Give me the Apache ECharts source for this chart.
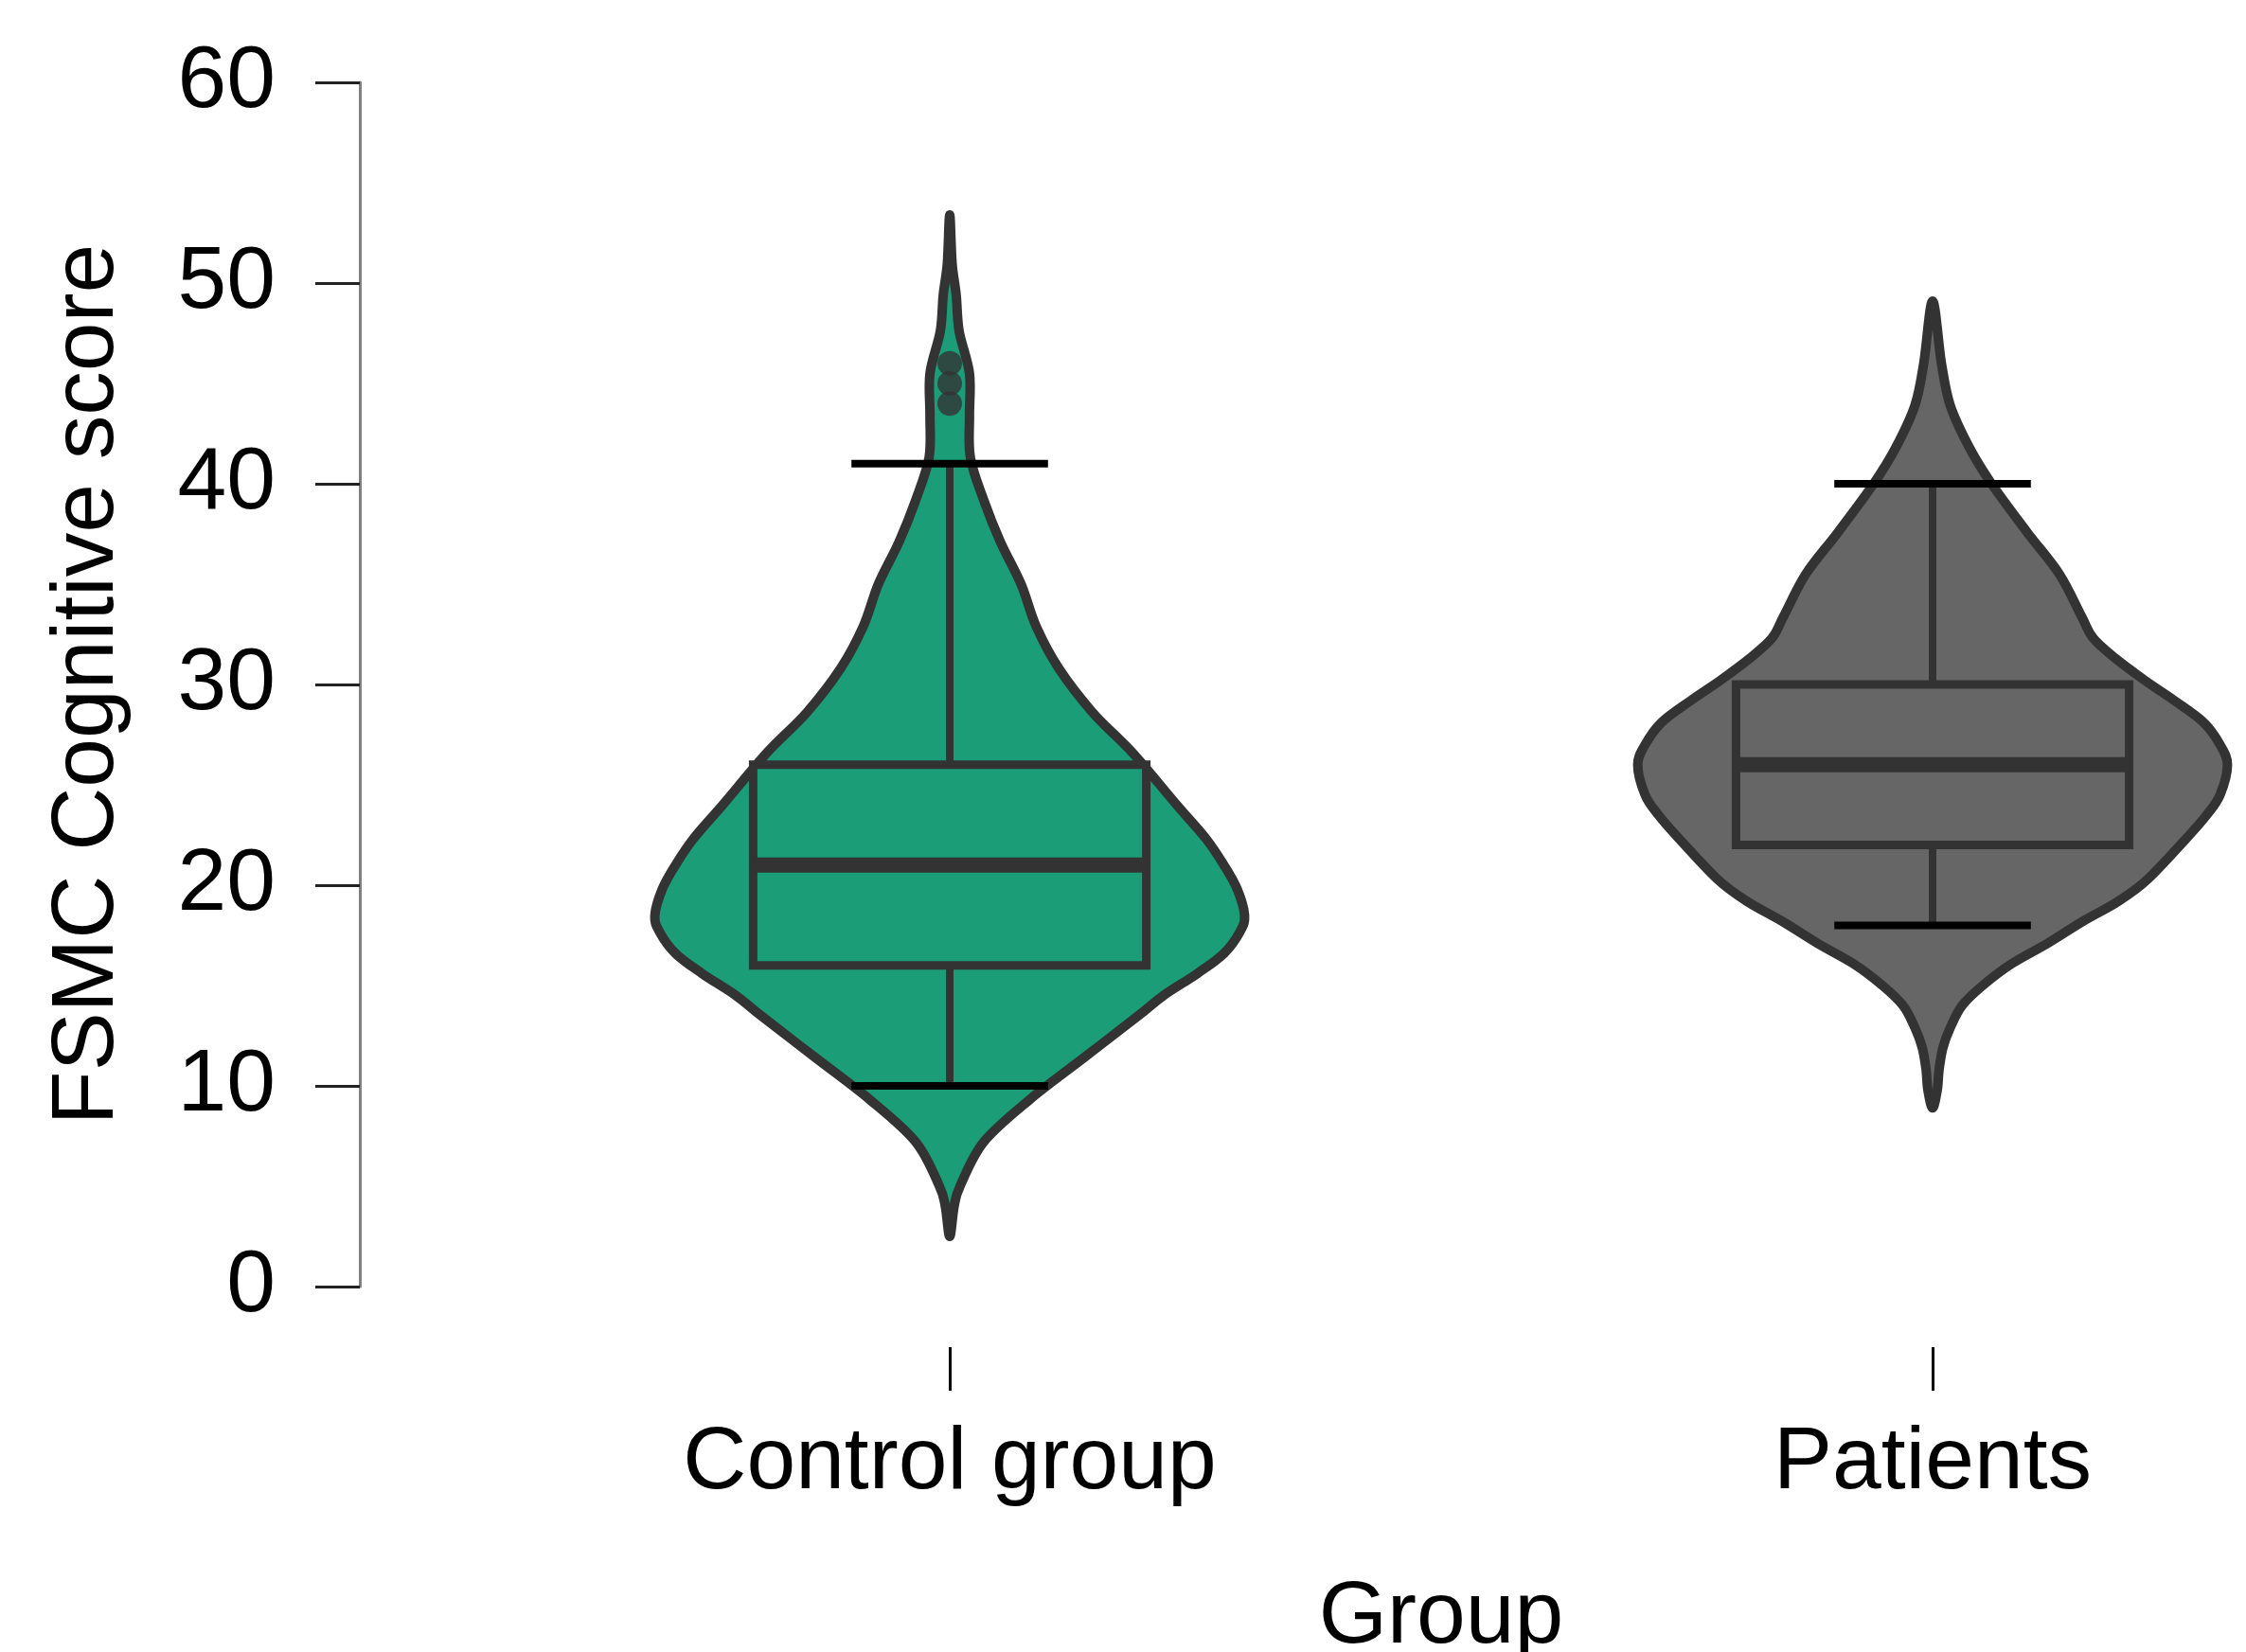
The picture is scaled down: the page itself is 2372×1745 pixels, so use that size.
<!DOCTYPE html>
<html>
<head>
<meta charset="utf-8">
<script src="https://cdn.jsdelivr.net/npm/echarts@6/dist/echarts.min.js"></script>
<style>
html,body{margin:0;padding:0;background:#fff;}
#chart{width:2372px;height:1745px;}
</style>
</head>
<body>
<div id="chart"></div>
<script>
// ---------- data ----------
const categories = ['Control group', 'Patients'];
const yTickMin = 0, yTickMax = 60, yTickStep = 10;

// violin outlines: score and relative half-width (1 = widest)
const controlDensityScore = [2.5, 4.0, 5.0, 7.2, 9.3, 11.4, 13.5, 14.5, 15.6, 16.6, 17.7, 18.5, 19.8, 21.0, 22.3, 24.0, 26.6, 28.6, 30.8, 32.9, 35.0, 37.1, 39.2, 41.3, 43.4, 45.5, 47.6, 49.4, 51.0, 53.4];
const controlDensityWidth = [0, 0.015, 0.035, 0.115, 0.27, 0.455, 0.64, 0.725, 0.84, 0.93, 0.985, 1.0, 0.975, 0.93, 0.87, 0.77, 0.62, 0.485, 0.37, 0.293, 0.242, 0.172, 0.115, 0.07, 0.067, 0.067, 0.032, 0.022, 0.008, 0];

const patientsDensityScore = [8.9, 9.8, 10.8, 11.9, 12.9, 14.0, 15.0, 16.1, 17.1, 18.2, 19.2, 20.3, 22.4, 23.5, 24.5, 26.0, 27.0, 28.1, 29.2, 30.2, 31.3, 32.3, 33.4, 35.5, 37.6, 40.0, 41.8, 43.9, 46.0, 49.1];
const patientsDensityWidth = [0, 0.016, 0.022, 0.035, 0.06, 0.10, 0.17, 0.27, 0.39, 0.51, 0.63, 0.73, 0.865, 0.93, 0.975, 1.0, 0.975, 0.92, 0.82, 0.72, 0.62, 0.545, 0.505, 0.43, 0.32, 0.20, 0.125, 0.06, 0.03, 0];

// box plot statistics
const whiskerLow = [10, 18];
const boxQ1 = [16, 22];
const boxMedian = [21, 26];
const boxQ3 = [26, 30];
const whiskerHigh = [41, 40];

// outliers
const outlierGroup = [0, 0, 0];
const outlierScore = [44, 45, 46];

// ---------- chart ----------
const fillColors = ['#1b9e77', '#666666'];
const densityScores = [controlDensityScore, patientsDensityScore];
const densityWidths = [controlDensityWidth, patientsDensityWidth];
const FONT = "'Liberation Sans', Arial, Helvetica, sans-serif";

// closed Catmull-Rom curve through screen points -> SVG path string
function closedSplinePath(p) {
  const n = p.length;
  let d = 'M' + p[0][0].toFixed(2) + ' ' + p[0][1].toFixed(2);
  for (let k = 0; k < n; k++) {
    const p0 = p[(k - 1 + n) % n], p1 = p[k], p2 = p[(k + 1) % n], p3 = p[(k + 2) % n];
    const c1x = p1[0] + (p2[0] - p0[0]) / 6, c1y = p1[1] + (p2[1] - p0[1]) / 6;
    const c2x = p2[0] - (p3[0] - p1[0]) / 6, c2y = p2[1] - (p3[1] - p1[1]) / 6;
    d += ' C' + c1x.toFixed(2) + ' ' + c1y.toFixed(2) + ' ' + c2x.toFixed(2) + ' ' + c2y.toFixed(2) + ' ' + p2[0].toFixed(2) + ' ' + p2[1].toFixed(2);
  }
  return d + ' Z';
}

function renderViolin(params, api) {
  const i = api.value(0);
  const cx = api.coord([i, 0])[0];
  const band = api.coord([1, 0])[0] - api.coord([0, 0])[0];
  const halfViolin = band * 0.3;
  const halfBox = band * 0.2;
  const halfCap = band * 0.1;
  const sc = densityScores[i], w = densityWidths[i];
  const pts = [];
  for (let k = 0; k < sc.length; k++) {
    pts.push([cx + w[k] * halfViolin, api.coord([i, sc[k]])[1]]);
  }
  for (let k = sc.length - 2; k > 0; k--) {
    pts.push([cx - w[k] * halfViolin, api.coord([i, sc[k]])[1]]);
  }
  const yLow = api.coord([i, whiskerLow[i]])[1];
  const yQ1 = api.coord([i, boxQ1[i]])[1];
  const yMed = api.coord([i, boxMedian[i]])[1];
  const yQ3 = api.coord([i, boxQ3[i]])[1];
  const yHigh = api.coord([i, whiskerHigh[i]])[1];
  const dark = '#333333';
  return {
    type: 'group',
    children: [
      { type: 'path', shape: { pathData: closedSplinePath(pts) },
        style: { fill: fillColors[i], stroke: dark, lineWidth: 10, lineJoin: 'round' } },
      { type: 'line', shape: { x1: cx, y1: yQ3, x2: cx, y2: yHigh },
        style: { stroke: dark, lineWidth: 8 } },
      { type: 'line', shape: { x1: cx, y1: yQ1, x2: cx, y2: yLow },
        style: { stroke: dark, lineWidth: 8 } },
      { type: 'rect', shape: { x: cx - halfBox, y: yQ3, width: 2 * halfBox, height: yQ1 - yQ3 },
        style: { fill: fillColors[i], stroke: dark, lineWidth: 9 } },
      { type: 'line', shape: { x1: cx - halfBox, y1: yMed, x2: cx + halfBox, y2: yMed },
        style: { stroke: dark, lineWidth: 16 } },
      { type: 'line', shape: { x1: cx - halfCap, y1: yHigh, x2: cx + halfCap, y2: yHigh },
        style: { stroke: '#000', lineWidth: 8 } },
      { type: 'line', shape: { x1: cx - halfCap, y1: yLow, x2: cx + halfCap, y2: yLow },
        style: { stroke: '#000', lineWidth: 8 } }
    ]
  };
}

const chart = echarts.init(document.getElementById('chart'), null, { renderer: 'canvas' });
chart.setOption({
  animation: false,
  backgroundColor: '#ffffff',
  textStyle: { fontFamily: FONT },
  grid: [
    { left: 1003, right: 331, top: 87, bottom: 386, containLabel: false, outerBoundsMode: 'none' },
    { left: 1003, right: 331, top: 87, bottom: 322, containLabel: false, outerBoundsMode: 'none' }
  ],
  xAxis: [
    {
      type: 'category',
      gridIndex: 0,
      data: categories,
      boundaryGap: false,
      axisLine: { show: false },
      axisTick: { show: false },
      axisLabel: { show: false },
      splitLine: { show: false }
    },
    {
      type: 'category',
      gridIndex: 1,
      data: categories,
      boundaryGap: false,
      axisLine: { show: false },
      axisTick: { show: true, length: 46, lineStyle: { color: '#000', width: 3 } },
      axisLabel: { fontSize: 93, color: '#000', margin: 77, fontFamily: FONT },
      splitLine: { show: false },
      name: 'Group',
      nameLocation: 'middle',
      nameGap: 240,
      nameTextStyle: { fontSize: 93, color: '#000', fontFamily: FONT }
    }
  ],
  yAxis: [
    {
      type: 'value',
      gridIndex: 0,
      min: yTickMin, max: yTickMax, interval: yTickStep,
      offset: 623,
      axisLine: { show: true, lineStyle: { color: '#808080', width: 3 } },
      axisTick: { show: true, length: 47, lineStyle: { color: '#222', width: 3 } },
      axisLabel: { fontSize: 93, color: '#000', margin: 89, fontFamily: FONT },
      splitLine: { show: false },
      name: 'FSMC Cognitive score',
      nameLocation: 'middle',
      nameGap: 240,
      nameTextStyle: { fontSize: 93, color: '#000', fontFamily: FONT }
    },
    {
      type: 'value',
      gridIndex: 1,
      show: false,
      min: yTickMin, max: yTickMax,
      splitLine: { show: false }
    }
  ],
  series: [
    {
      type: 'custom',
      xAxisIndex: 0, yAxisIndex: 0,
      renderItem: renderViolin,
      clip: false,
      encode: { x: 0, y: 1 },
      data: categories.map((c, i) => [i, boxMedian[i]]),
      z: 2
    },
    {
      type: 'scatter',
      xAxisIndex: 0, yAxisIndex: 0,
      symbol: 'circle',
      symbolSize: 26,
      itemStyle: { color: '#333333' },
      data: outlierScore.map((v, k) => [outlierGroup[k], v]),
      z: 5
    }
  ]
});
</script>
</body>
</html>
